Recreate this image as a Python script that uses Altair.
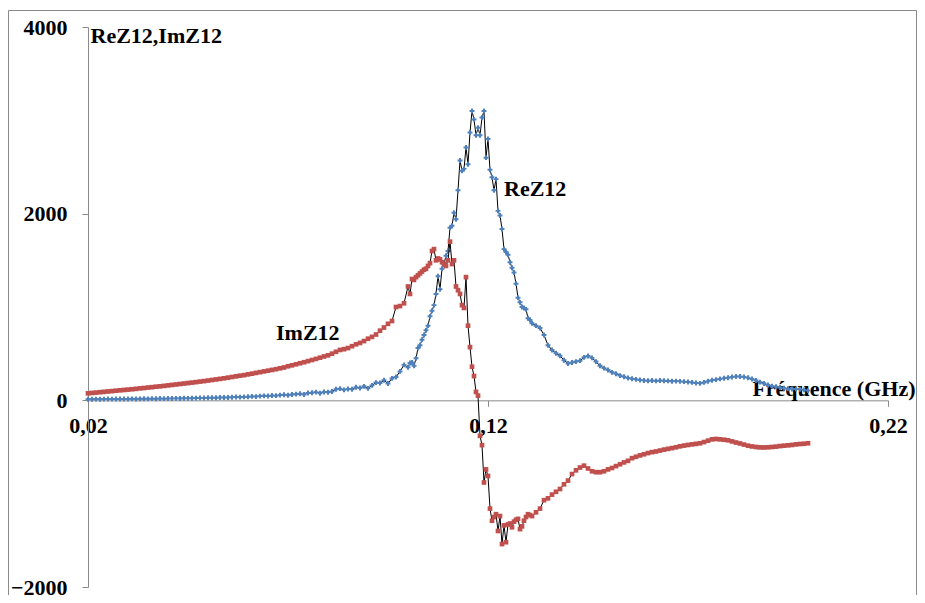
import altair as alt
import numpy as np
import pandas as pd

# Frequency sweep (GHz): coarse / fine / coarse segments
freq_a = np.round(np.arange(0.020, 0.0995, 0.001), 4)    # 80 pts
freq_b = np.round(np.arange(0.100, 0.1306, 0.0005), 4)   # 62 pts
freq_c = np.round(np.arange(0.131, 0.2005, 0.001), 4)    # 70 pts

re_a = [12, 12, 13, 12, 13, 14, 13, 14, 15, 14,
        15, 16, 15, 16, 17, 16, 18, 17, 19, 18,
        20, 19, 21, 20, 22, 21, 23, 24, 26, 25,
        27, 28, 27, 30, 31, 30, 33, 35, 34, 37,
        38, 42, 40, 45, 48, 46, 52, 50, 56, 60,
        55, 63, 66, 70, 62, 78, 82, 88, 76, 90,
        86, 95, 118, 125, 112, 122, 118, 140, 132, 150,
        128, 160, 190, 185, 215, 180, 235, 250, 310, 380]
re_b = [355, 400, 405, 370, 450, 560, 590, 650, 700, 750,
        800, 900, 960, 1020, 1140, 1330, 1190, 1410, 1460, 1550,
        1600, 1850, 1870, 2010, 1940, 2250, 2570, 2460, 2480, 2710,
        2530, 2870, 3100, 3010, 2840, 2920, 2840, 3030, 3100, 2600,
        2800, 2470, 2390, 2250, 2370, 2030, 1980, 1835, 1620, 1590,
        1560, 1480, 1420, 1370, 1250, 1100, 1050, 1000, 990, 975,
        880, 860]
re_c = [825, 800, 775, 700, 590, 540, 505, 478, 430, 395,
        405, 415, 425, 460, 475, 455, 415, 370, 345, 325,
        300, 285, 265, 252, 240, 232, 225, 218, 212, 210,
        212, 208, 212, 210, 208, 205, 206, 203, 200, 196,
        192, 186, 182, 192, 205, 215, 222, 230, 236, 242,
        250, 256, 256, 250, 242, 228, 212, 195, 180, 165,
        152, 145, 138, 130, 124, 121, 120, 118, 112, 104]

im_a = [75, 79, 83, 87, 91, 95, 99, 103, 107, 111,
        115, 119, 123, 128, 132, 137, 141, 146, 150, 155,
        160, 165, 170, 175, 180, 185, 190, 195, 201, 206,
        212, 218, 224, 230, 236, 243, 250, 257, 264, 270,
        278, 286, 294, 302, 310, 318, 326, 334, 343, 352,
        365, 375, 386, 397, 408, 420, 432, 444, 457, 470,
        482, 500, 520, 540, 548, 560, 580, 600, 615, 635,
        660, 680, 705, 746, 780, 820, 850, 1000, 1010, 1040]
im_b = [1220, 1140, 1300, 1290, 1320, 1340, 1360, 1380, 1400, 1410,
        1440, 1470, 1600, 1620, 1500, 1520, 1510, 1480, 1460, 1440,
        1500, 1700, 1460, 1500, 1220, 1180, 1140, 1020, 990, 1320,
        800, 570, 360, 260, 90, 50, -380, -480, -880, -740,
        -810, -1160, -1290, -1250, -1220, -1400, -1240, -1540, -1340, -1520,
        -1330, -1320, -1360, -1300, -1280, -1270, -1380, -1350, -1290, -1250,
        -1220, -1230]
im_c = [-1240, -1200, -1160, -1070, -1050, -1010, -980, -950, -900, -860,
        -790, -750, -720, -700, -730, -760, -770, -770, -760, -740,
        -725, -705, -685, -665, -648, -620, -605, -590, -578, -565,
        -555, -548, -538, -528, -520, -512, -503, -493, -485, -478,
        -472, -466, -460, -447, -432, -418, -414, -418, -422, -428,
        -440, -452, -462, -474, -486, -494, -500, -504, -505, -503,
        -500, -496, -490, -486, -482, -478, -472, -468, -465, -460]

x_ticks = [0.02, 0.12, 0.22]
y_ticks = [-2000, 0, 2000, 4000]

ann_labels = ["ReZ12", "ImZ12"]
ann_f = [0.124, 0.067]
ann_v = [2190, 643]

freq = np.concatenate([freq_a, freq_b, freq_c])
df_re = pd.DataFrame({"f": freq, "v": re_a + re_b + re_c})
df_im = pd.DataFrame({"f": freq, "v": im_a + im_b + im_c})
df_ann = pd.DataFrame({"f": ann_f, "v": ann_v, "t": ann_labels})

FONT = "Liberation Serif"
W, H = 800, 560
YMIN, YMAX = -2000, 4000
zero_offset = -H * (0 - YMIN) / (YMAX - YMIN)

xscale = alt.Scale(domain=[0.02, 0.22], nice=False, zero=False)
yscale = alt.Scale(domain=[YMIN, YMAX], nice=False)

x_axis = alt.Axis(
    values=x_ticks,
    labelExpr="replace(format(datum.value, '.2f'), '.', ',')",
    offset=zero_offset,
    grid=False,
    domainColor="#8a8a8a",
    tickColor="#8a8a8a",
    tickSize=6,
    labelFont=FONT, labelFontWeight="bold", labelFontSize=22, labelColor="black",
    labelPadding=9, labelFlush=False, labelOverlap=False,
    title="Fréquence (GHz)",
    titleFont=FONT, titleFontWeight="bold", titleFontSize=22, titleColor="black",
    titleX=827, titleY=-5, titleAlign="right", titleBaseline="alphabetic",
)
y_axis = alt.Axis(
    values=y_ticks,
    format="d",
    grid=False,
    domainColor="#8a8a8a",
    tickColor="#8a8a8a",
    tickSize=6,
    labelFont=FONT, labelFontWeight="bold", labelFontSize=22, labelColor="black",
    labelPadding=15, labelOverlap=False,
    title="ReZ12,ImZ12",
    titleFont=FONT, titleFontWeight="bold", titleFontSize=22, titleColor="black",
    titleAngle=0, titleX=2, titleY=15, titleAlign="left", titleBaseline="alphabetic",
)

X = alt.X("f:Q", scale=xscale, axis=x_axis)
Y = alt.Y("v:Q", scale=yscale, axis=y_axis)

frame = alt.Chart(pd.DataFrame({"a": [0]})).mark_rect(
    fillOpacity=0, stroke="#8a8a8a", strokeWidth=1
).encode(x=alt.value(-79.5), x2=alt.value(828.5), y=alt.value(-16.5), y2=alt.value(620))

re_line = alt.Chart(df_re).mark_line(color="black", strokeWidth=1).encode(x=X, y=Y)
re_pts = alt.Chart(df_re).mark_point(shape="cross", filled=True, size=24,
                                     color="#4F81BD", opacity=1).encode(x=X, y=Y)
im_line = alt.Chart(df_im).mark_line(color="black", strokeWidth=1).encode(x=X, y=Y)
im_pts = alt.Chart(df_im).mark_point(shape="square", filled=True, size=22,
                                     color="#C0504D", opacity=1).encode(x=X, y=Y)

ann = alt.Chart(df_ann).mark_text(
    font=FONT, fontWeight="bold", fontSize=22, color="black",
    align="left", baseline="alphabetic"
).encode(x=X, y=Y, text="t:N")

chart = alt.layer(frame, re_line, re_pts, im_line, im_pts, ann).properties(
    width=W, height=H,
    autosize=alt.AutoSizeParams(type="none"),
    padding={"left": 80, "top": 19, "right": 29, "bottom": 8},
).configure_view(strokeWidth=0)

chart.save("out.html", embed_options={"renderer": "svg", "actions": False})
